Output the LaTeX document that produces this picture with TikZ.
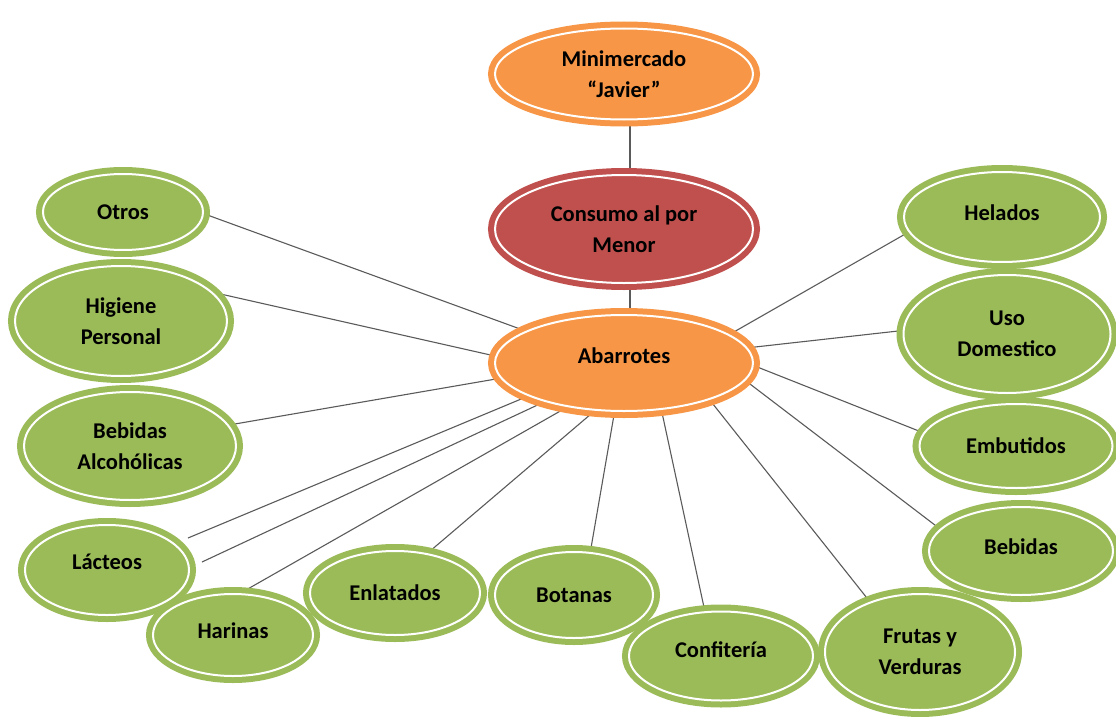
\documentclass[tikz,border=0pt]{standalone}
\usepackage{fontspec}
\setmainfont{Carlito}
\usetikzlibrary{shapes.geometric,backgrounds}
\definecolor{orangeA}{HTML}{F79646}
\definecolor{redA}{HTML}{C0504D}
\definecolor{greenA}{HTML}{9BBB59}
\definecolor{linkgray}{HTML}{5A5A5A}
\tikzset{
  bubble/.style={ellipse, inner sep=0pt, outer sep=0pt,
    draw=#1, fill=#1, line width=6pt, double=white, double distance=2pt,
    font=\fontsize{22.5}{31}\selectfont\bfseries, align=center, text=black},
  sz/.style 2 args={minimum width=#1pt, minimum height=#2pt},
  link/.style={draw=linkgray, line width=1.1pt},
}
\newcommand{\up}[2]{\raisebox{#1pt}[\height][\depth]{#2}}
\begin{document}
\begin{tikzpicture}[x=1pt, y=-1pt]
  \useasboundingbox (0,0) rectangle (1116,717);

  % central chain
  \node[bubble=orangeA, sz={258}{91}]  (mini) at (624,74)  {Minimercado\\“Javier”};
  \node[bubble=redA,    sz={258}{108}] (cons) at (624,229) {Consumo al por\\Menor};
  \node[bubble=orangeA, sz={258}{96}]  (abar) at (624,363) {\up{7}{Abarrotes}};

  % product groups, left side
  \node[bubble=greenA, sz={160}{76}]  (otros)  at (123,212) {Otros};
  \node[bubble=greenA, sz={212}{110}] (hig)    at (121,321) {Higiene\\Personal};
  \node[bubble=greenA, sz={212}{108}] (bebalc) at (130,446) {Bebidas\\Alcohólicas};
  \node[bubble=greenA, sz={164}{90}]  (lact)   at (107,570) {\up{8}{Lácteos}};
  \node[bubble=greenA, sz={160}{82}]  (har)    at (233,635) {\up{4}{Harinas}};

  % product groups, bottom
  \node[bubble=greenA, sz={170}{84}]  (enl)  at (395,593) {Enlatados};
  \node[bubble=greenA, sz={158}{86}]  (bot)  at (574,595) {Botanas};
  \node[bubble=greenA, sz={184}{89}]  (conf) at (721,656) {\up{6}{Confitería}};
  \node[bubble=greenA, sz={190}{116}] (frut) at (920,652) {Frutas y\\Verduras};

  % product groups, right side
  \node[bubble=greenA, sz={184}{88}]  (beb) at (1021,551) {\up{4}{Bebidas}};
  \node[bubble=greenA, sz={193}{84}]  (emb) at (1016,446) {Embutidos};
  \node[bubble=greenA, sz={207}{118}] (uso) at (1007,334) {Uso\\Domestico};
  \node[bubble=greenA, sz={196}{90}]  (hel) at (1002,217) {\up{4}{Helados}};

  % loose ends near Lácteos
  \coordinate (lacA) at (188,538);
  \coordinate (lacB) at (202,562);

  \begin{pgfonlayer}{background}
    \draw[link] ([xshift=6pt]mini.south) -- ([xshift=6pt]cons.north);
    \draw[link] ([xshift=6pt]cons.south) -- ([xshift=6pt]abar.north);

    \draw[link] (abar.162) -- (otros.-1);
    \draw[link] (abar.177) -- (hig.18);
    \draw[link] (abar.187) -- (bebalc.12);
    \draw[link] (abar.199) -- (lacA);
    \draw[link] (abar.206) -- (lacB);
    \draw[link] (abar.218) -- (har.82);
    \draw[link] (abar.239) -- (enl.51);
    \draw[link] (abar.259) -- (bot.69);
    \draw[link] (abar.309) -- (conf.110);
    \draw[link] (abar.337) -- (frut.135);
    \draw[link] (abar.352) -- (beb.165);
    \draw[link] (abar.359) -- (emb.172);
    \draw[link] (abar.7)   -- (uso.178);
    \draw[link] (abar.15)  -- (hel.189);
  \end{pgfonlayer}
\end{tikzpicture}
\end{document}
